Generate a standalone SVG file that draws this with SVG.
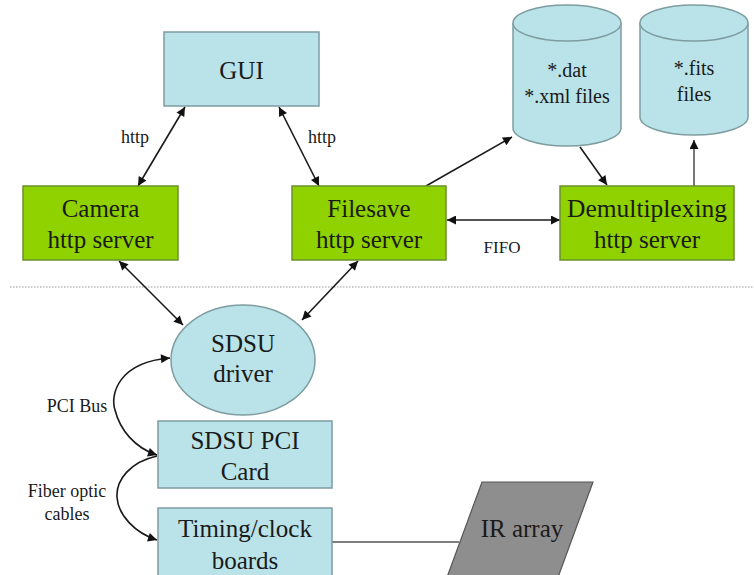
<svg xmlns="http://www.w3.org/2000/svg" width="754" height="575" viewBox="0 0 754 575">
<style>
.blue{fill:#b9e3e8;stroke:#7e9da1;stroke-width:1.5}
.green{fill:#8fd200;stroke:#6b8f2e;stroke-width:1.5}
text{font-family:'Liberation Serif','DejaVu Serif',serif;fill:#1a1a1a;text-anchor:middle}
.big{font-size:25px}
.mid{font-size:20px}
.sm{font-size:18px}
.c{fill:none;stroke:#1a1a1a;stroke-width:1.6}
.g{fill:none;stroke:#555;stroke-width:1.6}
</style>
<defs>
<marker id="ah" viewBox="0 0 10 10" refX="10" refY="5" markerUnits="userSpaceOnUse" markerWidth="12" markerHeight="9" orient="auto-start-reverse">
<path d="M0,0 L10,5 L0,10 z" fill="#111"/>
</marker>
</defs>
<rect width="754" height="575" fill="#fff"/>
<line x1="10" y1="287" x2="754" y2="287" stroke="#999" stroke-width="1.2" stroke-dasharray="1.5 1.5"/>

<g id="connectors" font-family="'Liberation Serif', 'DejaVu Serif', serif">
<line class="c" x1="185" y1="107" x2="138" y2="186" marker-start="url(#ah)" marker-end="url(#ah)"/>
<line class="c" x1="279" y1="107" x2="319" y2="186" marker-start="url(#ah)" marker-end="url(#ah)"/>
<line class="c" x1="426" y1="186" x2="512" y2="137" marker-end="url(#ah)"/>
<line class="c" x1="580" y1="147" x2="607" y2="185" marker-end="url(#ah)"/>
<line class="g" x1="694" y1="186" x2="694" y2="140" marker-end="url(#ah)"/>
<line class="c" x1="447" y1="220" x2="560" y2="220" marker-start="url(#ah)" marker-end="url(#ah)"/>
<line class="c" x1="119" y1="261" x2="183" y2="325" marker-start="url(#ah)" marker-end="url(#ah)"/>
<line class="c" x1="358" y1="261" x2="302" y2="320" marker-start="url(#ah)" marker-end="url(#ah)"/>
<path class="c" d="M170,358 C118,362 110,395 115,410 C120,430 135,448 157,455" marker-start="url(#ah)" marker-end="url(#ah)"/>
<path class="c" d="M157,456 C130,462 116,480 117,497 C118,515 135,533 157,540" marker-end="url(#ah)"/>
<line class="g" x1="332" y1="542" x2="459" y2="542"/>
<text class="sm" x="135" y="143">http</text>
<text class="sm" x="322" y="143">http</text>
<text class="sm" x="502" y="253" style="font-size:17px">FIFO</text>
<text class="sm" x="77" y="412">PCI Bus</text>
<text class="sm" x="67" y="497">Fiber optic</text>
<text class="sm" x="67" y="520">cables</text>
</g>

<g id="gui" font-family="'Liberation Serif', 'DejaVu Serif', serif">
<rect class="blue" x="164" y="32" width="155" height="74"/>
<text class="big" x="241.5" y="79">GUI</text>
</g>

<g id="camera" font-family="'Liberation Serif', 'DejaVu Serif', serif">
<rect class="green" x="23" y="186" width="155" height="74"/>
<text class="big" x="100.5" y="217">Camera</text>
<text class="big" x="100.5" y="248">http server</text>
</g>

<g id="filesave" font-family="'Liberation Serif', 'DejaVu Serif', serif">
<rect class="green" x="292" y="186" width="154" height="74"/>
<text class="big" x="369" y="217">Filesave</text>
<text class="big" x="369" y="248">http server</text>
</g>

<g id="demux" font-family="'Liberation Serif', 'DejaVu Serif', serif">
<rect class="green" x="560" y="186" width="174" height="74"/>
<text class="big" x="647" y="217" textLength="160" lengthAdjust="spacingAndGlyphs">Demultiplexing</text>
<text class="big" x="647" y="248">http server</text>
</g>

<g id="datfiles" font-family="'Liberation Serif', 'DejaVu Serif', serif">
<path class="blue" d="M513,23 L513,128 A54,18 0 0 0 621,128 L621,23 A54,18 0 0 0 513,23 Z"/>
<path class="blue" d="M513,23 A54,18 0 0 0 621,23" fill="none"/>
<text class="mid" x="567" y="77">*.dat</text>
<text class="mid" x="567" y="103">*.xml files</text>
</g>

<g id="fitsfiles" font-family="'Liberation Serif', 'DejaVu Serif', serif">
<path class="blue" d="M640,23 L640,117 A54,18 0 0 0 748,117 L748,23 A54,18 0 0 0 640,23 Z"/>
<path class="blue" d="M640,23 A54,18 0 0 0 748,23" fill="none"/>
<text class="mid" x="694" y="75">*.fits</text>
<text class="mid" x="694" y="101">files</text>
</g>

<g id="sdsudriver" font-family="'Liberation Serif', 'DejaVu Serif', serif">
<ellipse class="blue" cx="243" cy="360" rx="72" ry="55"/>
<text class="big" x="243" y="352">SDSU</text>
<text class="big" x="243" y="382">driver</text>
</g>

<g id="pcicard" font-family="'Liberation Serif', 'DejaVu Serif', serif">
<rect class="blue" x="158" y="421" width="174" height="67"/>
<text class="big" x="245" y="449">SDSU PCI</text>
<text class="big" x="245" y="480">Card</text>
</g>

<g id="timing" font-family="'Liberation Serif', 'DejaVu Serif', serif">
<rect class="blue" x="158" y="508" width="174" height="72"/>
<text class="big" x="245" y="537">Timing/clock</text>
<text class="big" x="245" y="569">boards</text>
</g>

<g id="irarray" font-family="'Liberation Serif', 'DejaVu Serif', serif">
<polygon points="482,482 593,482 557,580 446,580" fill="#8e8e8e" stroke="#555" stroke-width="1.2"/>
<text class="big" x="522" y="537">IR array</text>
</g>
</svg>
